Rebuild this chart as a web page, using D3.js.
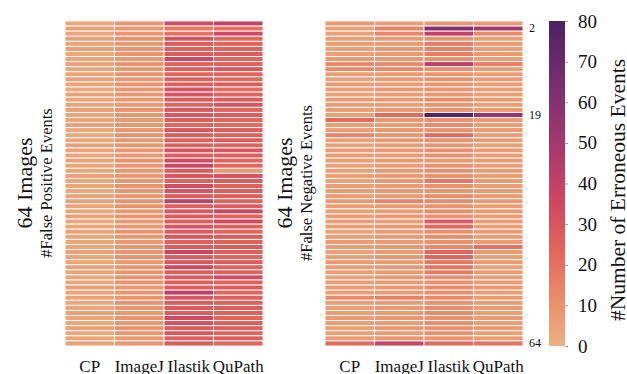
<!DOCTYPE html>
<html>
<head>
    <title>Erroneous events heatmaps</title>
    <script src="https://d3js.org/d3.v7.min.js"></script>
    <style>
        body { margin: 0; background: #fff; }
        text { font-family: "Liberation Serif", "DejaVu Serif", serif; fill: #111; }
    </style>
</head>
<body>
<script>
    var w = 627;
    var h = 374;

    var tools = ["CP", "ImageJ", "Ilastik", "QuPath"];
    var rowLabels = [2, 19, 64];
    var cbarTicks = [0, 10, 20, 30, 40, 50, 60, 70, 80];

    // false positives, 64 images per tool
    var fpCP = [4,5,4,5,4,5,3,4,5,4, 4,5,4,3,5,4,4,5,4,4, 5,4,3,4,5,4,4,5,4,4,
                5,4,4,3,4,5,4,4,5,4, 4,5,4,4,3,5,4,4,5,4, 4,4,5,4,4,3,4,5,4,4, 5,4,4,5];
    var fpImageJ = [9,8,9,10,8,9,9,8,10,9, 9,8,10,9,9,8,9,10,9,8, 9,9,10,8,9,9,8,10,9,9,
                    8,9,10,9,8,9,10,9,9,8, 9,10,9,8,9,9,10,8,9,9, 10,9,8,9,9,10,9,8,9,9, 10,9,8,9];
    var fpIlastik = [34,18,20,30,27,25,27,35,25,27, 24,26,25,31,30,27,25,29,29,27,
                     24,30,27,26,25,31,27,35,37,27, 29,25,33,30,27,42,27,29,28,27,
                     30,27,29,26,28,37,27,29,35,27, 28,26,27,42,29,27,28,27,35,32,
                     27,29,26,28];
    var fpQuPath = [40,20,35,23,25,25,27,24,25,29, 24,23,27,22,25,27,30,24,27,24,
                    22,27,25,27,25,29,27,24,23,8, 31,27,25,27,26,24,27,37,25,35,
                    26,24,27,25,27,26,24,27,25,26, 33,25,27,24,26,25,27,25,24,27,
                    26,25,27,24];

    // false negatives, 64 images per tool
    var fnCP = [8,5,5,6,6,5,6,7,12,12, 6,5,7,6,5,6,7,6,5,22, 6,7,14,6,5,6,7,6,5,6,
                6,5,6,7,6,8,6,5,6,7, 6,5,6,7,6,5,6,7,6,6, 5,6,7,6,12,6,5,6,7,6, 5,6,7,22];
    var fnImageJ = [6,14,14,7,7,8,7,8,12,12, 7,8,7,8,7,8,7,8,22,8, 7,8,9,8,7,8,7,8,7,8,
                    7,8,7,8,7,14,8,7,8,7, 8,7,8,7,8,7,8,7,8,7, 8,7,8,7,15,7,8,7,8,7, 8,7,8,38];
    var fnIlastik = [8,60,40,9,16,15,16,10,42,11, 9,10,8,10,9,11,10,9,78,10, 12,10,22,10,9,11,10,9,10,11,
                     10,18,10,9,11,12,10,11,10,28, 22,10,11,10,12,24,24,18,18,17, 11,10,12,11,12,10,11,12,10,11,
                     10,11,10,22];
    var fnQuPath = [7,50,12,6,7,6,7,6,16,7, 6,7,6,7,6,7,6,7,55,7, 6,7,6,7,6,7,6,7,6,7,
                    6,7,6,7,6,7,6,7,6,7, 6,7,6,7,20,7,6,7,6,7, 6,7,8,6,7,6,7,6,7,6, 7,6,7,20];

    var fpSeries = [fpCP, fpImageJ, fpIlastik, fpQuPath];
    var fnSeries = [fnCP, fnImageJ, fnIlastik, fnQuPath];

    // seaborn "flare"-like colour ramp
    var flare = ["#edb081", "#e98d6b", "#e3685c", "#d14a61", "#b13c6b", "#8f3371", "#6c2b6d", "#4b2362"];
    var color = d3.scaleLinear()
                  .domain([0, 80/7, 160/7, 240/7, 320/7, 400/7, 480/7, 80])
                  .range(flare)
                  .interpolate(d3.interpolateRgb)
                  .clamp(true);

    var mapTop = 21, mapBottom = 346;
    var rows = d3.range(1, 65);

    var yScale = d3.scaleBand().domain(rows).range([mapTop, mapBottom]);

    var svg = d3.select("body")
                .append("svg")
                .attr("width", w)
                .attr("height", h);

    function heatmap(series, x0, title) {
        var xScale = d3.scaleBand().domain(tools).range([x0, x0 + 198]);
        var cells = [];
        series.forEach(function(vals, j) {
            vals.forEach(function(v, i) {
                cells.push({tool: tools[j], row: i + 1, value: v});
            });
        });
        var g = svg.append("g");
        g.selectAll("rect")
         .data(cells)
         .enter()
         .append("rect")
         .attr("x", function(d) { return xScale(d.tool); })
         .attr("y", function(d) { return yScale(d.row); })
         .attr("width", xScale.bandwidth())
         .attr("height", yScale.bandwidth())
         .attr("fill", function(d) { return color(d.value); })
         .attr("stroke", "#fff")
         .attr("stroke-width", 0.9);

        // tool names under the columns
        var xAxis = svg.append("g")
                       .attr("transform", "translate(0," + mapBottom + ")")
                       .call(d3.axisBottom(xScale).tickSize(0).tickPadding(14));
        xAxis.select(".domain").remove();
        xAxis.selectAll("text")
             .attr("font-size", "17px")
             .attr("font-family", "Liberation Serif");

        var cy = 183;
        svg.append("text")
           .attr("transform", "translate(" + (x0 - 33) + "," + cy + ") rotate(-90)")
           .attr("text-anchor", "middle")
           .attr("font-size", "22px")
           .text("64 Images");
        svg.append("text")
           .attr("transform", "translate(" + (x0 - 13) + "," + cy + ") rotate(-90)")
           .attr("text-anchor", "middle")
           .attr("font-size", "16.5px")
           .text(title);
        return xScale;
    }

    heatmap(fpSeries, 65, "#False Positive Events");
    heatmap(fnSeries, 325, "#False Negative Events");

    // selected image numbers on the right map
    var rowAxis = svg.append("g")
                     .attr("transform", "translate(523,0)")
                     .call(d3.axisRight(yScale).tickValues(rowLabels).tickSize(0).tickPadding(6));
    rowAxis.select(".domain").remove();
    rowAxis.selectAll("text")
           .attr("font-size", "12px")
           .attr("font-family", "Liberation Serif");

    // colour bar
    var cbX = 549, cbW = 16;
    var cbScale = d3.scaleLinear().domain([0, 80]).range([mapBottom, mapTop]);
    var grad = svg.append("defs")
                  .append("linearGradient")
                  .attr("id", "cbar")
                  .attr("x1", "0").attr("y1", "1")
                  .attr("x2", "0").attr("y2", "0");
    grad.selectAll("stop")
        .data(d3.range(0, 81, 2))
        .enter()
        .append("stop")
        .attr("offset", function(d) { return (d / 80 * 100) + "%"; })
        .attr("stop-color", function(d) { return color(d); });
    svg.append("rect")
       .attr("x", cbX)
       .attr("y", mapTop)
       .attr("width", cbW)
       .attr("height", mapBottom - mapTop)
       .attr("fill", "url(#cbar)");

    var cbAxis = svg.append("g")
                    .attr("transform", "translate(" + (cbX + cbW) + ",0)")
                    .call(d3.axisRight(cbScale).tickValues(cbarTicks).tickSize(3).tickPadding(10));
    cbAxis.select(".domain").remove();
    cbAxis.selectAll("line").attr("stroke", "#999");
    cbAxis.selectAll("text")
          .attr("font-size", "19px")
          .attr("font-family", "Liberation Serif");

    svg.append("text")
       .attr("transform", "translate(625,190) rotate(-90)")
       .attr("text-anchor", "middle")
       .attr("font-size", "21.5px")
       .text("#Number of Erroneous Events");
</script>
</body>
</html>
